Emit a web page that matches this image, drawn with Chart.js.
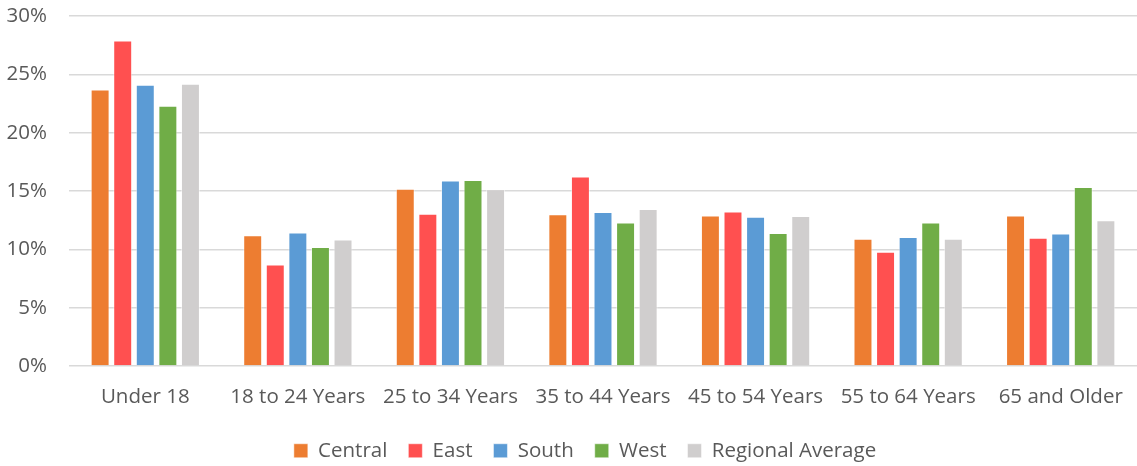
<!DOCTYPE html>
<html>
<head>
<meta charset="utf-8">
<script src="https://cdn.jsdelivr.net/npm/chart.js@4"></script>
<style>
  html, body { margin: 0; padding: 0; background: #fff; }
  #wrap { width: 1137px; height: 466px; }
</style>
</head>
<body>
<div id="wrap"><canvas id="ageChart"></canvas></div>
<script>
// age group share by region (%)
var ageGroups = ["Under 18", "18 to 24 Years", "25 to 34 Years", "35 to 44 Years", "45 to 54 Years", "55 to 64 Years", "65 and Older"]
var central = [23.7, 11.2, 15.2, 13.0, 12.9, 10.9, 12.9]
var east = [27.9, 8.7, 13.05, 16.25, 13.25, 9.8, 11.0]
var south = [24.1, 11.45, 15.9, 13.2, 12.8, 11.05, 11.35]
var west = [22.3, 10.2, 15.95, 12.3, 11.4, 12.3, 15.35]
var regionalAvg = [24.2, 10.85, 15.15, 13.45, 12.85, 10.9, 12.5]
var yTicks = [0, 5, 10, 15, 20, 25, 30]

var textColor = "#595959"
var fontFamily = "'Open Sans', 'Noto Sans', sans-serif"

function series(label, data, color) {
    return {
        label: label,
        data: data,
        backgroundColor: color,
        borderColor: "rgba(255,255,255,0.5)",
        borderWidth: 1,
        categoryPercentage: 0.74,
        barPercentage: 0.84,
    }
}

// the legend in the original sits a bit right of the page centre
var legendShift = {
    id: "legendShift",
    afterLayout: function (chart) {
        chart.legend.left += 15
        chart.legend.right += 15
    },
}

new Chart("ageChart", {
    type: "bar",
    data: {
        labels: ageGroups,
        datasets: [
            series("Central", central, "#ED7D31"),
            series("East", east, "#FF5050"),
            series("South", south, "#5B9BD5"),
            series("West", west, "#70AD47"),
            series("Regional Average", regionalAvg, "#D0CECE"),
        ],
    },
    plugins: [legendShift],
    options: {
        responsive: true,
        maintainAspectRatio: false,
        animation: false,
        layout: { padding: { top: 0, left: 3, right: 0, bottom: -5 } },
        scales: {
            x: {
                grid: { display: false },
                border: { display: false },
                ticks: { color: textColor, font: { family: fontFamily, size: 20.5 }, padding: 11 },
                afterFit: function (axis) {
                    axis.height = 53.5
                },
            },
            y: {
                min: 0,
                max: 30,
                afterBuildTicks: function (axis) {
                    axis.ticks = yTicks.map(function (v) { return { value: v } })
                },
                afterFit: function (axis) {
                    axis.width = 66
                    axis.paddingTop = 16
                    axis.paddingBottom = 0
                },
                grid: { color: "#d9d9d9", lineWidth: 1.5, drawTicks: false },
                border: { display: false },
                ticks: {
                    color: textColor,
                    font: { family: fontFamily, size: 20.5 },
                    padding: 22,
                    callback: function (v) { return v + "%" },
                },
            },
        },
        plugins: {
            tooltip: { enabled: false },
            legend: {
                position: "bottom",
                labels: {
                    color: textColor,
                    font: { family: fontFamily, size: 20.5 },
                    boxWidth: 14,
                    boxHeight: 14,
                    padding: 21,
                    useBorderRadius: false,
                },
            },
        },
    },
})
</script>
</body>
</html>
